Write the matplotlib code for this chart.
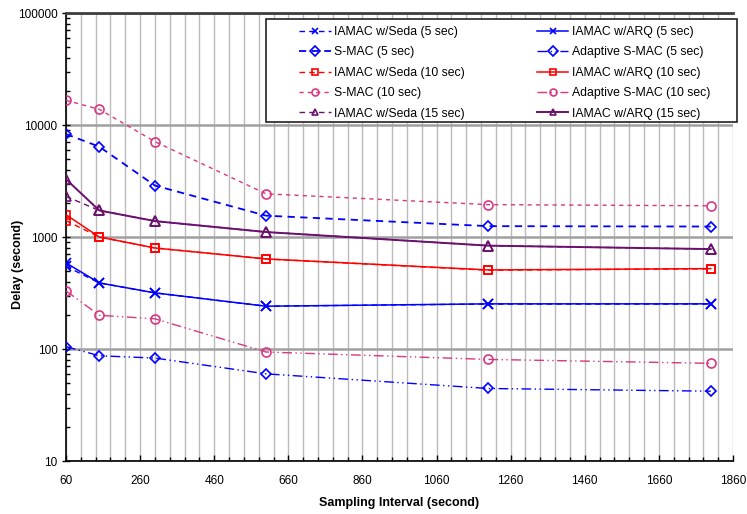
import matplotlib
matplotlib.use("Agg")
import matplotlib.pyplot as plt
from matplotlib.patches import Rectangle
from matplotlib.ticker import FixedLocator, LogLocator, NullFormatter, FuncFormatter

plt.rcParams['font.family'] = ['Liberation Sans', 'DejaVu Sans']

x = [60, 150, 300, 600, 1200, 1800]

seda_5 = [547, 389, 317, 241, 252, 252]
arq_5 = [587, 389, 317, 241, 253, 253]
smac_5 = [8300, 6400, 2880, 1550, 1250, 1240]
asmac_5 = [105, 87, 83, 60, 44.4, 42]
seda_10 = [1397, 1000, 798, 637, 505, 520]
arq_10 = [1580, 1000, 798, 637, 508, 522]
smac_10 = [16600, 13800, 7100, 2430, 1945, 1900]
asmac_10 = [330, 200, 186, 94, 80.7, 74.5]
seda_15 = [2300, 1725, 1387, 1107, 837, 780]
arq_15 = [3280, 1725, 1387, 1107, 837, 780]

xticks = [60, 260, 460, 660, 860, 1060, 1260, 1460, 1660, 1860]
yticks = [10, 100, 1000, 10000, 100000]

BLUE = '#0000FF'
RED = '#FF0000'
PINK = '#D83682'
PURPLE = '#6A106E'

W, H = 747, 514
AX_L, AX_R, AX_T, AX_B = 66, 733, 13, 461
fig = plt.figure(figsize=(W/100, H/100), dpi=100)
ax = fig.add_axes([AX_L/W, (H-AX_B)/H, (AX_R-AX_L)/W, (AX_B-AX_T)/H])

def axc(px, py):
    return ((px-AX_L)/(AX_R-AX_L), (AX_B-py)/(AX_B-AX_T))

dash = (0, (4, 3))
dash2 = (0, (3, 3))
dadd = (0, (7, 2.5, 1, 2.5, 1, 2.5))

series = [
    ('IAMAC w/Seda (5 sec)', seda_5, BLUE, dash, 'x', 1.0),
    ('S-MAC (5 sec)', smac_5, BLUE, dash, 'D', 1.3),
    ('IAMAC w/Seda (10 sec)', seda_10, RED, dash, 's', 1.0),
    ('S-MAC (10 sec)', smac_10, PINK, dash2, 'o', 1.0),
    ('IAMAC w/Seda (15 sec)', seda_15, PURPLE, dash, '^', 1.0),
    ('IAMAC w/ARQ (5 sec)', arq_5, BLUE, '-', 'x', 1.1),
    ('Adaptive S-MAC (5 sec)', asmac_5, BLUE, dadd, 'D', 1.0),
    ('IAMAC w/ARQ (10 sec)', arq_10, RED, '-', 's', 1.1),
    ('Adaptive S-MAC (10 sec)', asmac_10, PINK, dadd, 'o', 1.0),
    ('IAMAC w/ARQ (15 sec)', arq_15, PURPLE, '-', '^', 1.4),
]
msizes = {'x': 6.5, 'D': 5.0, 's': 6.0, 'o': 6.5, '^': 7.0}

handles = []
for label, ys, c, ls, m, lw in series:
    h, = ax.plot(x, ys, color=c, linestyle=ls, linewidth=lw, marker=m,
                 markersize=msizes[m], markerfacecolor='none', markeredgecolor=c,
                 markeredgewidth=1.2, label=label, zorder=3)
    handles.append(h)

ax.set_yscale('log')
ax.set_xlim(60, 1860)
ax.set_ylim(10, 100000)

ax.xaxis.set_major_locator(FixedLocator(xticks))
ax.xaxis.set_minor_locator(FixedLocator(list(range(60, 1861, 40))))
ax.yaxis.set_major_locator(FixedLocator(yticks))
ax.yaxis.set_major_formatter(FuncFormatter(lambda v, p: f"{int(round(v))}"))
ax.yaxis.set_minor_locator(LogLocator(base=10, subs=range(2, 10), numticks=20))
ax.yaxis.set_minor_formatter(NullFormatter())

ax.grid(True, which='minor', axis='x', color='#BBBBBB', linewidth=1.0, zorder=0)
ax.grid(True, which='major', axis='x', color='#BBBBBB', linewidth=1.0, zorder=0)
ax.grid(True, which='major', axis='y', color='#A0A0A0', linewidth=1.8, zorder=0)

ax.tick_params(axis='x', which='major', labelsize=8.5, direction='in', length=4, width=1, pad=10)
ax.tick_params(axis='x', which='minor', direction='in', length=3, width=1)
ax.tick_params(axis='y', which='major', labelsize=8.5, direction='inout', length=6, width=1, pad=3)
ax.tick_params(axis='y', which='minor', direction='in', length=3, width=1)

for s in ['left', 'bottom']:
    ax.spines[s].set_color('black')
    ax.spines[s].set_linewidth(1.2)
ax.spines['top'].set_color('#404040')
ax.spines['top'].set_linewidth(2)
ax.spines['right'].set_visible(False)

ax.set_xlabel('Sampling Interval (second)', fontsize=9, fontweight='bold', va='top')
ax.xaxis.set_label_coords(0.5, axc(0, 497)[1])
ax.set_ylabel('Delay (second)', fontsize=9, fontweight='bold')
ax.yaxis.set_label_coords(axc(24, 0)[0], axc(0, 264)[1])

# legend frame drawn manually
x0, y0 = axc(266, 122)
x1, y1 = axc(737, 19)
ax.add_patch(Rectangle((x0, y0), x1-x0, y1-y0, transform=ax.transAxes,
                       facecolor='white', edgecolor='#222222', linewidth=1.2,
                       clip_on=False, zorder=5))

lx, ly = axc(299, 26)
leg = ax.legend(handles=handles, ncol=2, loc='upper left',
                bbox_to_anchor=(lx, ly), fontsize=8.8, frameon=False,
                handlelength=2.6, columnspacing=5.9, labelspacing=0.69,
                borderpad=0.0, borderaxespad=0.0, handletextpad=0.25)
leg.set_zorder(6)
for lh in leg.legend_handles:
    lh.set_markersize(5)

fig.savefig('out.png', dpi=100)
